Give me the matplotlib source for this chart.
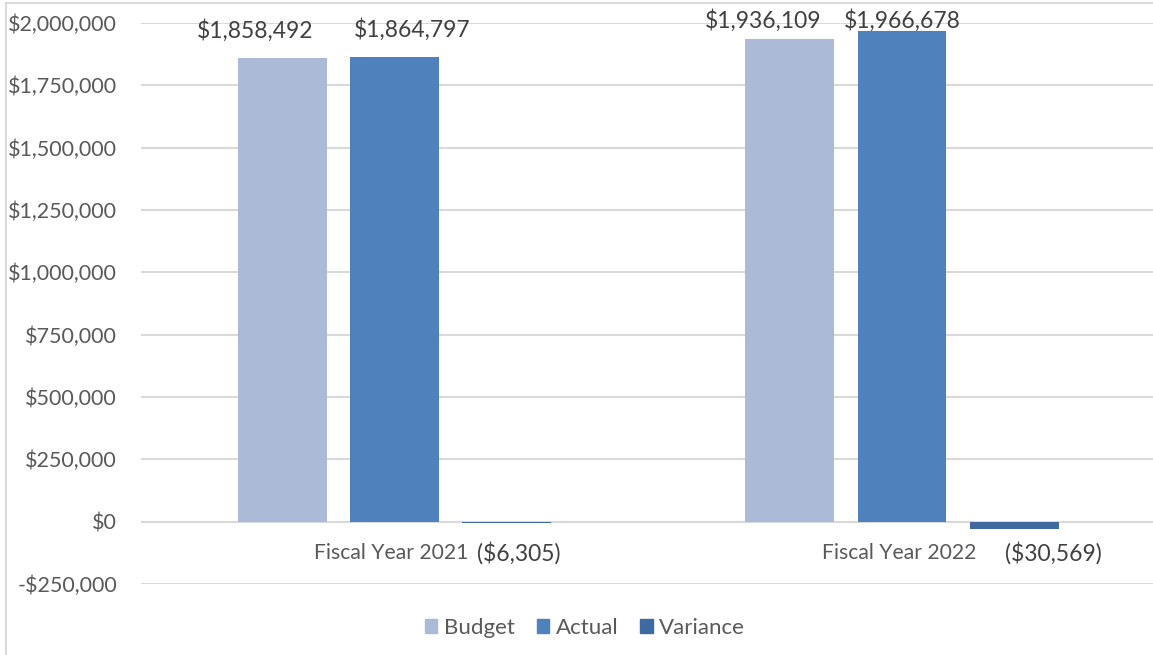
import matplotlib.pyplot as plt
import matplotlib.patches as mpatches
import matplotlib.lines as mlines
import numpy as np

categories = ['Fiscal Year 2021', 'Fiscal Year 2022']
series = ['Budget', 'Actual', 'Variance']
budget = [1858492, 1936109]
actual = [1864797, 1966678]
variance = [-6305, -30569]
yticks = [-250000, 0, 250000, 500000, 750000, 1000000, 1250000, 1500000, 1750000, 2000000]

colors = ['#ABBAD7', '#4F81BD', '#3F6AA0']
text_col = '#595959'
fs = 15.5

plt.rcParams['font.family'] = ['Lato', 'DejaVu Sans']

fig = plt.figure(figsize=(11.53, 6.55), dpi=100)
ax = fig.add_axes([140.75/1153, 1-584/655, (1155.75-140.75)/1153, (584-23)/655])

# light frame lines (left and top) like the clipped chart border
fig.lines.append(mlines.Line2D([6/1153, 6/1153], [0, 1-2.5/655], transform=fig.transFigure,
                               color='#D9D9D9', linewidth=1.5))
fig.lines.append(mlines.Line2D([6/1153, 1], [1-2.5/655, 1-2.5/655], transform=fig.transFigure,
                               color='#D9D9D9', linewidth=1.5))

x = np.arange(len(categories))
w = 0.175
step = 0.221
data = [budget, actual, variance]
# label nudges (pixels) so the value labels don't collide, like Excel does
nudge = {(0, 0): -27, (1, 0): 18, (0, 1): -27, (1, 1): 0, (2, 0): 12, (2, 1): 39}
for i, (vals, col) in enumerate(zip(data, colors)):
    pos = x + (i - 1) * step
    ax.bar(pos, vals, width=w, color=col, label=series[i], zorder=3)
    for j, v in enumerate(vals):
        if v >= 0:
            ly = min(v + 110000, 2008000)
            ax.annotate('${:,}'.format(v), (pos[j], ly), xytext=(nudge[(i, j)], 0),
                        textcoords='offset pixels', ha='center', va='center',
                        fontsize=16.5, color='#404040', annotation_clip=False)
        else:
            ax.annotate('(${:,})'.format(-v), (pos[j], 0), xytext=(nudge[(i, j)], -31),
                        textcoords='offset pixels', ha='center', va='center',
                        fontsize=16.5, color='#404040', annotation_clip=False)

# category labels just below the zero line
for j, c in enumerate(categories):
    ax.annotate(c, (x[j], 0), xytext=(-3, -31), textcoords='offset pixels',
                ha='center', va='center', fontsize=15.2, color=text_col)

ax.set_xlim(-0.5, 1.5)
ax.set_ylim(-250000, 2000000)
ax.set_yticks(yticks)
ax.set_yticklabels([('-$' if t < 0 else '$') + '{:,}'.format(abs(t)) for t in yticks],
                   fontsize=fs, color=text_col)
ax.set_xticks([])
ax.tick_params(axis='y', length=0, pad=17)
ax.grid(axis='y', color='#D9D9D9', linewidth=1.5, zorder=0)
for s in ax.spines.values():
    s.set_visible(False)

handles = [mpatches.Patch(color=c) for c in colors]
fig.legend(handles, series, loc='center', bbox_to_anchor=(585/1153, 1-628/655), ncol=3,
           frameon=False, fontsize=16, handlelength=0.55, handleheight=0.55,
           handletextpad=0.3, columnspacing=1.0, labelcolor=text_col)

fig.savefig('out.png', dpi=100)
